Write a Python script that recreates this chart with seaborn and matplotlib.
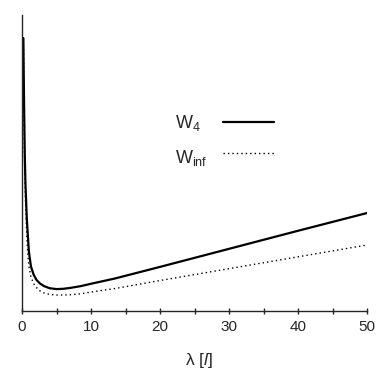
import matplotlib
matplotlib.use("Agg")
import matplotlib.pyplot as plt
from matplotlib.lines import Line2D
import seaborn as sns
import pandas as pd

lam_w4 = [0.2, 0.25, 0.3, 0.4, 0.5, 0.6, 0.7, 0.85, 1.0, 1.3, 1.7, 2.1, 2.6, 3.2, 4.0,
          5.0, 6.0, 7.0, 8.5, 10, 13.5, 20, 30, 40, 50]
w4 = [0.922, 0.80, 0.70, 0.53, 0.43, 0.37, 0.31, 0.255, 0.20, 0.15, 0.122, 0.105, 0.093,
      0.084, 0.077, 0.074, 0.075, 0.078, 0.084, 0.092, 0.110, 0.149, 0.210, 0.271, 0.331]

lam_winf = [0.2, 0.25, 0.3, 0.4, 0.5, 0.6, 0.7, 0.85, 1.0, 1.3, 1.7, 2.1, 2.6, 3.2, 4.0,
            5.0, 6.0, 7.0, 8.5, 10, 13.5, 20, 30, 40, 50]
winf = [0.90, 0.76, 0.65, 0.48, 0.38, 0.31, 0.25, 0.19, 0.15, 0.115, 0.092, 0.079, 0.068,
        0.061, 0.056, 0.054, 0.054, 0.055, 0.058, 0.064, 0.076, 0.103, 0.143, 0.183, 0.223]

x_ticks = [0, 10, 20, 30, 40, 50]
series_labels = ["W$_4$", "W$_{\\rm inf}$"]

sns.set_style("ticks")
plt.rcParams['font.family'] = ['Liberation Sans', 'DejaVu Sans']
plt.rcParams['mathtext.fontset'] = 'custom'
plt.rcParams['mathtext.rm'] = 'Liberation Sans'
plt.rcParams['mathtext.it'] = 'Liberation Sans:italic'

df = pd.concat([
    pd.DataFrame({"lam": lam_w4, "val": w4, "series": series_labels[0]}),
    pd.DataFrame({"lam": lam_winf, "val": winf, "series": series_labels[1]}),
])

W, H = 382, 382
fig = plt.figure(figsize=(3.82, 3.82), dpi=100)
ax = fig.add_axes([22/W, 1-311/H, (367-22)/W, (311-15)/H])

line_widths = [1.6, 1.0]
sns.lineplot(data=df, x="lam", y="val", hue="series", style="series",
             palette=["black", "black"], dashes={series_labels[0]: "", series_labels[1]: (1, 2.2)},
             ax=ax, sort=False, estimator=None, legend=False)
for ln, lw in zip(ax.lines, line_widths):
    ln.set_linewidth(lw)

ax.set_xlim(0, 50)
ax.set_ylim(0, 1)
ax.set_xticks(x_ticks)
ax.set_xticks([5, 15, 25, 35, 45], minor=True)
ax.tick_params(axis='x', which='major', direction='inout', length=5, width=1, labelsize=11, pad=4)
ax.tick_params(axis='x', which='minor', direction='inout', length=4, width=1)
ax.set_yticks([])
for s in ['top', 'right']:
    ax.spines[s].set_visible(False)
for s in ['left', 'bottom']:
    ax.spines[s].set_linewidth(1.0)
ax.set_ylabel("")
ax.set_xlabel("λ [$\\it{l}$]", fontsize=12.5, labelpad=10)
ax.xaxis.set_label_coords(0.513, -0.135)

# legend drawn manually so that labels are left-aligned with lines on the right
legend_rows = [(128.5, 122), (163, 153)]
for (base_y, line_y), lab, ln in zip(legend_rows, series_labels, ax.lines):
    fig.text(175/W, 1-base_y/H, lab, fontsize=13, ha='left', va='baseline')
    fig.add_artist(Line2D([223/W, 274/W], [1-line_y/H, 1-line_y/H], transform=fig.transFigure,
                          color='black', linewidth=ln.get_linewidth(),
                          linestyle=ln.get_linestyle(),
                          dashes=(1, 2.2) if ln is ax.lines[1] else (None, None)))

fig.savefig("out.png", dpi=100)
